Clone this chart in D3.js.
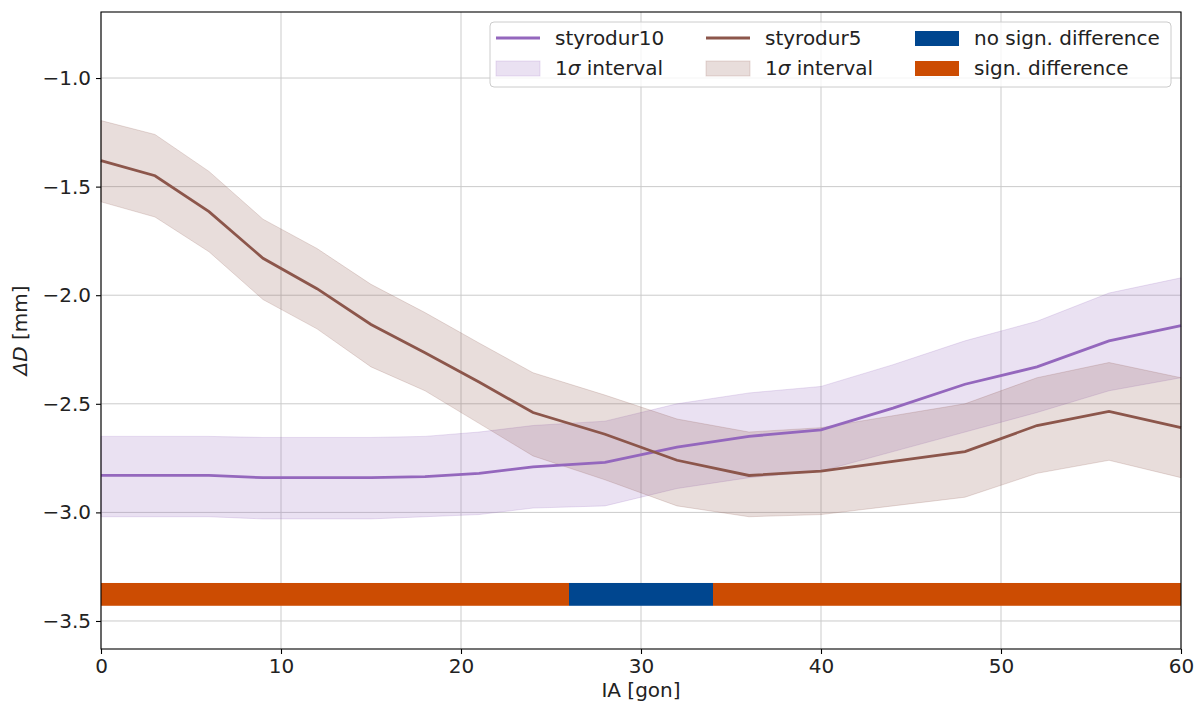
<!DOCTYPE html>
<html>
<head>
<meta charset="utf-8">
<script src="https://cdn.jsdelivr.net/npm/d3@7"></script>
<style>
  body { margin: 0; background: #fff; }
  svg text { font-family: "DejaVu Sans", sans-serif; }
</style>
</head>
<body>
<div id="chart"></div>
<script>
// incidence angles (gon)
var angles = [0, 3, 6, 9, 12, 15, 18, 21, 24, 28, 32, 36, 40, 44, 48, 52, 56, 60];

// styrodur10: mean and 1 sigma bounds (mm)
var s10Mean  = [-2.83, -2.83, -2.83, -2.84, -2.84, -2.84, -2.835, -2.82, -2.79, -2.77, -2.70, -2.65, -2.62, -2.52, -2.41, -2.33, -2.21, -2.14];
var s10Upper = [-2.65, -2.65, -2.65, -2.655, -2.655, -2.655, -2.65, -2.63, -2.60, -2.58, -2.50, -2.45, -2.42, -2.32, -2.21, -2.12, -1.99, -1.92];
var s10Lower = [-3.02, -3.02, -3.02, -3.03, -3.03, -3.03, -3.02, -3.01, -2.98, -2.97, -2.89, -2.84, -2.81, -2.72, -2.63, -2.54, -2.44, -2.38];

// styrodur5
var s5Mean  = [-1.38, -1.45, -1.615, -1.83, -1.97, -2.135, -2.265, -2.40, -2.54, -2.64, -2.76, -2.83, -2.81, -2.765, -2.72, -2.60, -2.535, -2.61];
var s5Upper = [-1.196, -1.26, -1.43, -1.65, -1.785, -1.95, -2.08, -2.22, -2.357, -2.46, -2.57, -2.63, -2.61, -2.555, -2.50, -2.38, -2.31, -2.38];
var s5Lower = [-1.57, -1.64, -1.80, -2.02, -2.155, -2.33, -2.44, -2.59, -2.74, -2.85, -2.97, -3.02, -3.01, -2.97, -2.93, -2.82, -2.76, -2.84];

// significance bar segments
var segStart = [0, 26, 34];
var segEnd   = [26, 34, 60];
var segSign  = [true, false, true];
var barLow = -3.43, barHigh = -3.325;

var xTicks = [0, 10, 20, 30, 40, 50, 60];
var yTicks = [-3.5, -3.0, -2.5, -2.0, -1.5, -1.0];

var purple = "#9467bd", brown = "#8c564b";
var blue = "#00468f", orange = "#cc4c02";

var width = 1202, height = 706;
var margin = {top: 12, right: 21, bottom: 57, left: 101};
var fs = 20;

var svg = d3.select("#chart").append("svg")
    .attr("width", width).attr("height", height);
var w = width - margin.left - margin.right;
var h = height - margin.top - margin.bottom;
var g = svg.append("g").attr("transform", "translate(" + margin.left + "," + margin.top + ")");

var x = d3.scaleLinear().domain([0, 60]).range([0, w]);
var y = d3.scaleLinear().domain([-3.629, -0.696]).range([h, 0]);

// grid
g.append("g").selectAll("line").data(xTicks).enter().append("line")
    .attr("x1", function(d) { return x(d); }).attr("x2", function(d) { return x(d); })
    .attr("y1", 0).attr("y2", h)
    .attr("stroke", "#cbcbcb").attr("stroke-width", 1);
g.append("g").selectAll("line").data(yTicks).enter().append("line")
    .attr("y1", function(d) { return y(d); }).attr("y2", function(d) { return y(d); })
    .attr("x1", 0).attr("x2", w)
    .attr("stroke", "#cbcbcb").attr("stroke-width", 1);

function band(up, lo) {
    return d3.area()
	.x(function(d, i) { return x(angles[i]); })
	.y0(function(d, i) { return y(lo[i]); })
	.y1(function(d, i) { return y(up[i]); })(angles);
}
var line = function(vals) {
    return d3.line()
	.x(function(d, i) { return x(angles[i]); })
	.y(function(d) { return y(d); })(vals);
};

// sigma bands
g.append("path").attr("d", band(s10Upper, s10Lower))
    .attr("fill", purple).attr("fill-opacity", 0.2)
    .attr("stroke", purple).attr("stroke-opacity", 0.2);
g.append("path").attr("d", band(s5Upper, s5Lower))
    .attr("fill", brown).attr("fill-opacity", 0.2)
    .attr("stroke", brown).attr("stroke-opacity", 0.2);

// mean lines
g.append("path").attr("d", line(s10Mean))
    .attr("fill", "none").attr("stroke", purple).attr("stroke-width", 2.8);
g.append("path").attr("d", line(s5Mean))
    .attr("fill", "none").attr("stroke", brown).attr("stroke-width", 2.8);

// significance bar
g.append("g").selectAll("rect").data(segStart).enter().append("rect")
    .attr("x", function(d) { return x(d); })
    .attr("width", function(d, i) { return x(segEnd[i]) - x(d); })
    .attr("y", y(barHigh))
    .attr("height", y(barLow) - y(barHigh))
    .attr("fill", function(d, i) { return segSign[i] ? orange : blue; });

// axes
var fmt = d3.format(".1f");
var xAxis = g.append("g").attr("transform", "translate(0," + h + ")")
    .call(d3.axisBottom(x).tickValues(xTicks).tickSize(5).tickPadding(5));
var yAxis = g.append("g")
    .call(d3.axisLeft(y).tickValues(yTicks).tickFormat(fmt).tickSize(5).tickPadding(5));
[xAxis, yAxis].forEach(function(a) {
    a.select(".domain").remove();
    a.selectAll("line").attr("stroke", "#000").attr("stroke-width", 1.1);
    a.selectAll("text").attr("fill", "#222").style("font-size", fs + "px")
	.style("font-family", "DejaVu Sans");
});

// frame
g.append("rect").attr("width", w).attr("height", h)
    .attr("fill", "none").attr("stroke", "#000").attr("stroke-width", 1.1);

// axis labels
svg.append("text")
    .attr("x", margin.left + w / 2).attr("y", 697)
    .attr("text-anchor", "middle").attr("fill", "#222")
    .style("font-size", fs + "px").text("IA [gon]");
var yl = svg.append("text")
    .attr("transform", "translate(27," + (margin.top + h / 2) + ") rotate(-90)")
    .attr("text-anchor", "middle").attr("fill", "#222")
    .style("font-size", fs + "px");
yl.append("tspan").style("font-style", "italic").text("ΔD");
yl.append("tspan").text(" [mm]");

// legend
var leg = svg.append("g").attr("transform", "translate(490,22)");
leg.append("rect").attr("width", 681).attr("height", 65).attr("rx", 4)
    .attr("fill", "#fff").attr("fill-opacity", 0.8)
    .attr("stroke", "#cccccc").attr("stroke-width", 1);

var legCols = [6, 216, 425];
var legRows = [16, 46];
var legItems = [
    {col: 0, row: 0, kind: "line", color: purple, label: ["styrodur10"]},
    {col: 0, row: 1, kind: "band", color: purple, label: ["1", "σ", " interval"]},
    {col: 1, row: 0, kind: "line", color: brown, label: ["styrodur5"]},
    {col: 1, row: 1, kind: "band", color: brown, label: ["1", "σ", " interval"]},
    {col: 2, row: 0, kind: "rect", color: blue, label: ["no sign. difference"]},
    {col: 2, row: 1, kind: "rect", color: orange, label: ["sign. difference"]}
];
legItems.forEach(function(it) {
    var lx = legCols[it.col], ly = legRows[it.row];
    if (it.kind == "line") {
	leg.append("line").attr("x1", lx).attr("x2", lx + 44)
	    .attr("y1", ly).attr("y2", ly)
	    .attr("stroke", it.color).attr("stroke-width", 2.8);
    } else {
	var r = leg.append("rect").attr("x", lx).attr("y", ly - 7)
	    .attr("width", 44).attr("height", 15);
	if (it.kind == "band") {
	    r.attr("fill", it.color).attr("fill-opacity", 0.2)
		.attr("stroke", it.color).attr("stroke-opacity", 0.2);
	} else {
	    r.attr("fill", it.color);
	}
    }
    var t = leg.append("text").attr("x", lx + 59).attr("y", ly + 7)
	.attr("fill", "#222").style("font-size", fs + "px");
    it.label.forEach(function(s, i) {
	var sp = t.append("tspan").text(s);
	if (s == "σ") sp.style("font-style", "italic");
    });
});
</script>
</body>
</html>
